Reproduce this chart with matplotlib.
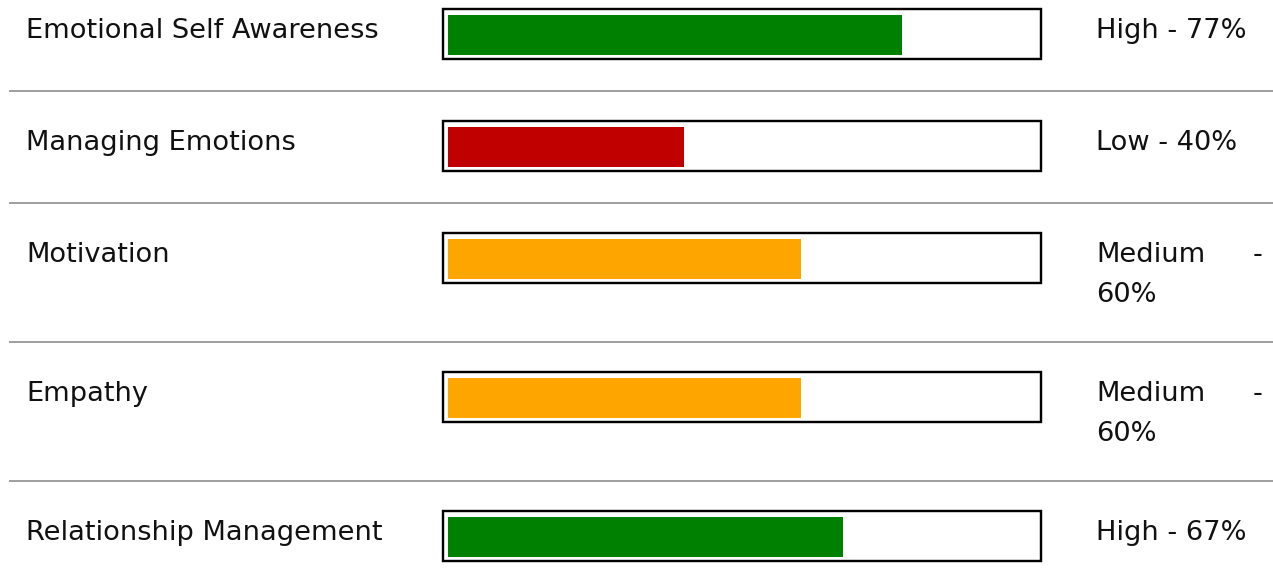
import matplotlib
matplotlib.use('Agg')
import matplotlib.pyplot as plt

categories = ['Emotional Self Awareness', 'Managing Emotions', 'Motivation',
              'Empathy', 'Relationship Management']
scores = [77, 40, 60, 60, 67]
levels = ['High', 'Low', 'Medium', 'Medium', 'High']
level_colors = {'High': '#008000', 'Low': '#c00000', 'Medium': '#ffa500'}

W, H = 1273, 587
PX = 72 / 100.0  # one pixel in points

fig = plt.figure(figsize=(W / 100, H / 100), dpi=100)
ax = fig.add_axes([0, 0, 1, 1])
ax.set_xlim(0, W)
ax.set_ylim(H, 0)
ax.axis('off')

box_left, box_w, box_h = 443, 598, 50
fill_left, fill_w, fill_h = 448, 589, 40
fs = 19.6

top = -22
for i, (cat, pct, lvl) in enumerate(zip(categories, scores, levels)):
    wrapped = lvl == 'Medium'
    row_h = 139 if wrapped else 112
    if i > 0:
        ax.plot([9, W], [top + 0.5, top + 0.5], color='#a0a0a0', lw=2 * PX,
                solid_capstyle='butt')
    box_top = top + 31
    ax.barh(box_top + box_h / 2, box_w, left=box_left, height=box_h,
            color='white', edgecolor='black', linewidth=2.4 * PX)
    ax.barh(box_top + 6 + fill_h / 2, pct / 100 * fill_w, left=fill_left, height=fill_h,
            color=level_colors[lvl], linewidth=0)
    base = box_top + 29
    ax.text(26, base, cat, fontsize=fs, va='baseline', ha='left', color='#111111')
    if wrapped:
        ax.text(1096, base, lvl, fontsize=fs, va='baseline', ha='left', color='#111111')
        ax.text(1262, base, '-', fontsize=fs, va='baseline', ha='right', color='#111111')
        ax.text(1096, base + 40, f'{pct}%', fontsize=fs, va='baseline', ha='left',
                color='#111111')
    else:
        ax.text(1096, base, f'{lvl} - {pct}%', fontsize=fs, va='baseline', ha='left',
                color='#111111')
    top += row_h

fig.savefig('out.png', dpi=100)
